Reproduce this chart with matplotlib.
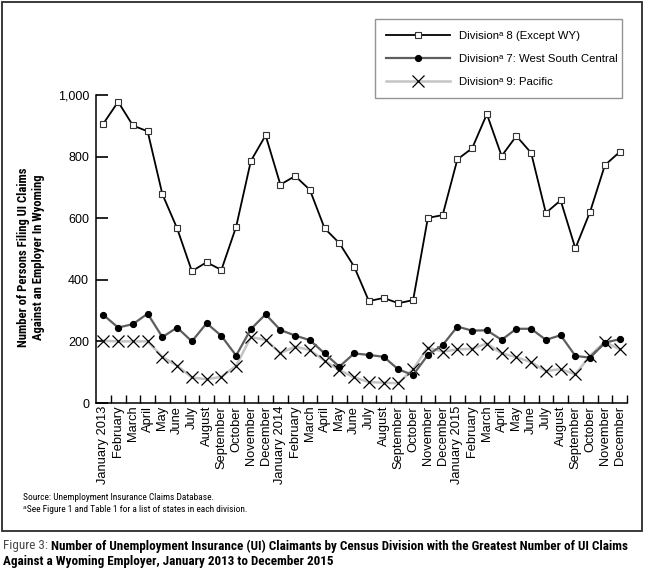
import numpy as np
import matplotlib
matplotlib.use("Agg")
import matplotlib.pyplot as plt
from matplotlib.patches import Rectangle
from matplotlib import font_manager as fm

months = ["January 2013", "February", "March", "April", "May", "June", "July",
          "August", "September", "October", "November", "December",
          "January 2014", "February", "March", "April", "May", "June", "July",
          "August", "September", "October", "November", "December",
          "January 2015", "February", "March", "April", "May", "June", "July",
          "August", "September", "October", "November", "December"]

div8 = [907, 978, 901, 882, 678, 567, 428, 457, 432, 572, 786, 869,
        709, 737, 692, 567, 519, 443, 331, 341, 324, 334, 601, 610,
        791, 827, 938, 802, 867, 812, 617, 658, 502, 621, 772, 815]
div7 = [286, 245, 256, 290, 214, 245, 200, 259, 218, 154, 240, 288,
        237, 219, 204, 161, 118, 161, 156, 150, 109, 91, 156, 188,
        248, 235, 236, 205, 241, 241, 205, 220, 153, 147, 196, 207]
div9 = [202, 200, 200, 200, 150, 121, 83, 77, 85, 121, 214, 205,
        162, 183, 172, 137, 107, 83, 68, 66, 64, 110, 180, 167,
        174, 176, 193, 161, 149, 132, 104, 110, 93, 154, 199, 174]

labels = ["Divisionᵃ 8 (Except WY)", "Divisionᵃ 7: West South Central", "Divisionᵃ 9: Pacific"]
yticks = [0, 200, 400, 600, 800, 1000]
ytick_labels = ["0", "200", "400", "600", "800", "1,000"]

FONT = ["Liberation Sans", "DejaVu Sans"]
plt.rcParams["font.family"] = FONT


def pick_narrow():
    for name in ["Liberation Sans Narrow", "Roboto Condensed", "Open Sans Condensed",
                 "Noto Sans Condensed", "DejaVu Sans Condensed"]:
        try:
            fm.findfont(fm.FontProperties(family=name), fallback_to_default=False)
            return name
        except Exception:
            continue
    return "Liberation Sans"


NARROW = pick_narrow()
NAR = [NARROW, "DejaVu Sans"]

W, H = 645, 570
fig = plt.figure(figsize=(W / 100, H / 100), dpi=100)


def fx(px):
    return px / W


def fy(py):
    return 1 - py / H


# outer frame
fig.patches.append(Rectangle((fx(1.5), fy(530.5)), fx(641.5) - fx(1.5), (530.5 - 1.5) / H,
                             transform=fig.transFigure, fill=False, edgecolor="#2a2a2a", lw=1.3))

ax = fig.add_axes([fx(96), fy(403), fx(627) - fx(96), (403 - 95) / H])
x = np.arange(len(months))

l9, = ax.plot(x, div9, color="#c4c4c4", lw=1.8, marker="x", markersize=9,
              markeredgecolor="black", markeredgewidth=0.9, zorder=2)
l7, = ax.plot(x, div7, color="#5e5e5e", lw=1.6, marker="o", markersize=4.2,
              markerfacecolor="black", markeredgecolor="black", zorder=3)
l8, = ax.plot(x, div8, color="black", lw=1.3, marker="s", markersize=5,
              markerfacecolor="white", markeredgecolor="#333333", markeredgewidth=0.8, zorder=4)

ax.set_xlim(-0.5, 35.5)
ax.set_ylim(0, 1000)
for s in ["top", "right"]:
    ax.spines[s].set_visible(False)
for s in ["left", "bottom"]:
    ax.spines[s].set_linewidth(1.1)
    ax.spines[s].set_color("black")
ax.spines["bottom"].set_zorder(5)

ax.set_xticks(x)
ax.set_xticklabels(months, rotation=90, fontsize=9.3)
ax.tick_params(axis="x", which="major", length=0, pad=2)
ax.set_xticks(np.arange(0.5, 35.6, 1), minor=True)
ax.tick_params(axis="x", which="minor", direction="in", length=6, width=1.0)
for i, t in enumerate(ax.xaxis.get_minor_ticks()):
    t.tick1line.set_color("black" if i % 2 == 0 else "#9a9a9a")

ax.set_yticks(yticks)
ax.set_yticklabels(ytick_labels, fontsize=9)
ax.tick_params(axis="y", direction="in", length=8.5, width=1.2, pad=5)
for i, t in enumerate(ax.yaxis.get_major_ticks()):
    t.tick1line.set_color("black" if i % 2 == 1 else "#9a9a9a")

yl1 = fig.text(fx(24), fy(257), "Number of Persons Filing UI Claims",
               rotation=90, ha="center", va="center", fontsize=10, fontweight="bold", family=NAR)
yl2 = fig.text(fx(39), fy(257), "Against an Employer In Wyoming",
               rotation=90, ha="center", va="center", fontsize=10, fontweight="bold", family=NAR)

leg = fig.legend([l8, l7, l9], labels, loc="upper left",
                 bbox_to_anchor=(fx(375), fy(20), fx(622) - fx(375), 0.001), mode="expand",
                 fontsize=8.2, frameon=True, fancybox=False, edgecolor="#7a7a7a",
                 handlelength=5.6, handletextpad=0.8, labelspacing=1.15, borderpad=1.0,
                 borderaxespad=0)
leg.get_frame().set_linewidth(1.0)

src = fig.text(fx(23), fy(498), "Source: Unemployment Insurance Claims Database.",
               fontsize=8, va="center", ha="left", family=NAR)
fn = fig.text(fx(23), fy(509), "ᵃSee Figure 1 and Table 1 for a list of states in each division.",
              fontsize=8, va="center", ha="left", family=NAR)

t0 = fig.text(fx(3), fy(546), "Figure 3: ", fontsize=10, color="#4a4a4a", va="center",
              ha="left", family=NAR)
t1 = fig.text(fx(103), fy(546),
              "Number of Unemployment Insurance (UI) Claimants by Census Division with the Greatest Number of UI Claims",
              fontsize=10, fontweight="bold", va="center", ha="left", family=NAR)
t2 = fig.text(fx(3), fy(561), "Against a Wyoming Employer, January 2013 to December 2015",
              fontsize=10, fontweight="bold", va="center", ha="left", family=NAR)

fig.canvas.draw()
r = fig.canvas.get_renderer()


def fit(texts, target, base, vertical=False, cap=1.3):
    ext = texts[0].get_window_extent(r)
    length = ext.height if vertical else ext.width
    s = min(target / length, cap)
    for t in texts:
        t.set_fontsize(base * s)


fit([yl1, yl2], 180, 10, vertical=True)
fit([src], 185, 8)
fit([fn, ], 225, 8)
src.set_fontsize(fn.get_fontsize())

# caption: fit combined first line
w0 = t0.get_window_extent(r).width
w1 = t1.get_window_extent(r).width
scale = min((627 - 3) / (w0 + w1), 1.05)
for t in (t0, t1, t2):
    t.set_fontsize(10 * scale)
fig.canvas.draw()
e0 = t0.get_window_extent(r)
t1.set_x(fx(e0.x1))

fig.savefig("out.png", dpi=100)
